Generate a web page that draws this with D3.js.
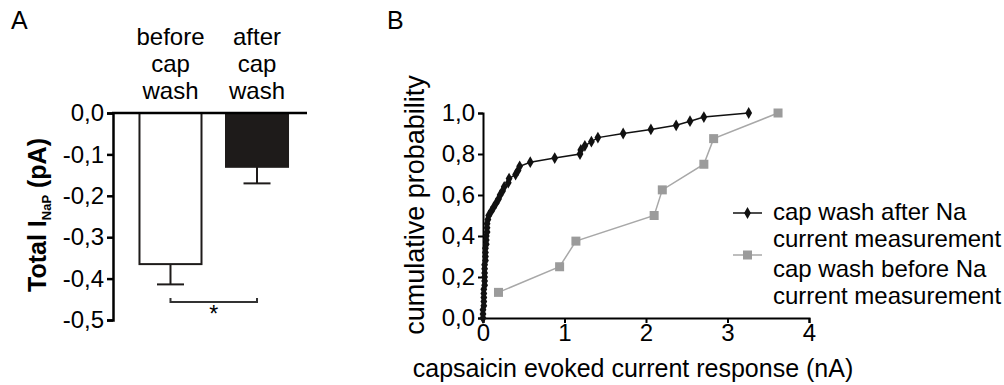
<!DOCTYPE html>
<html>
<head>
<meta charset="utf-8">
<script src="https://cdn.jsdelivr.net/npm/d3@7"></script>
<style>
  body { margin: 0; background: #fff; }
  svg { display: block; font-family: "Liberation Sans", Arial, sans-serif; }
</style>
</head>
<body>
<svg id="chart" width="1004" height="385"></svg>
<script>
// panel A data
var groups = ["before", "after"];
var groupLabels = [["before", "cap", "wash"], ["after", "cap", "wash"]];
var barMeans = [-0.365, -0.13];
var barErrs = [0.049, 0.04];
var barFills = ["#ffffff", "#1e1b1a"];
var yTicksA = [0, -0.1, -0.2, -0.3, -0.4, -0.5];

// panel B data (cumulative distributions)
var afterX = [0.00, 0.00, 0.00, 0.01, 0.01, 0.01, 0.01, 0.01, 0.02, 0.02, 0.02, 0.02, 0.02,
  0.02, 0.03, 0.03, 0.03, 0.03, 0.04, 0.04, 0.04, 0.05, 0.05, 0.05, 0.06, 0.07,
  0.10, 0.13, 0.16, 0.19, 0.21, 0.24, 0.26, 0.31, 0.32, 0.40, 0.43, 0.45, 0.58, 0.88,
  1.19, 1.20, 1.25, 1.33, 1.41, 1.72, 2.06, 2.37, 2.54, 2.71, 3.26];
var afterY = [0.00, 0.02, 0.04, 0.06, 0.08, 0.10, 0.12, 0.14, 0.16, 0.18, 0.20, 0.22, 0.24,
  0.26, 0.28, 0.30, 0.32, 0.34, 0.36, 0.38, 0.40, 0.42, 0.44, 0.46, 0.48, 0.50,
  0.52, 0.54, 0.56, 0.58, 0.60, 0.62, 0.64, 0.66, 0.68, 0.70, 0.72, 0.74, 0.76, 0.78,
  0.80, 0.82, 0.84, 0.86, 0.88, 0.90, 0.92, 0.94, 0.96, 0.98, 1.00];
var beforeX = [0.19, 0.94, 1.14, 2.10, 2.20, 2.71, 2.83, 3.62];
var beforeY = [0.125, 0.25, 0.375, 0.50, 0.625, 0.75, 0.875, 1.0];
var xTicksB = [0, 1, 2, 3, 4];
var yTicksB = [0, 0.2, 0.4, 0.6, 0.8, 1.0];
var legendLabels = [["cap wash after Na", "current measurement"], ["cap wash before Na", "current measurement"]];

var svg = d3.select("#chart");
var fmt = function (d) { return d3.format(".1f")(d).replace(".", ",").replace("−", "-"); };

// ---------- panel A ----------
svg.append("text").attr("x", 11).attr("y", 29).attr("font-size", 25).text("A");

var yA = d3.scaleLinear().domain([-0.5, 0]).range([320, 113]);
var xA = d3.scaleBand().domain(groups).range([126.5, 301]).paddingInner(0.2832).paddingOuter(0.15);

var gA = svg.append("g");

gA.selectAll(".bar")
  .data(groups)
  .enter()
  .append("rect")
  .attr("x", function (d) { return xA(d); })
  .attr("y", yA(0))
  .attr("width", xA.bandwidth())
  .attr("height", function (d, i) { return yA(barMeans[i]) - yA(0); })
  .attr("fill", function (d, i) { return barFills[i]; })
  .attr("stroke", "#1e1b1a")
  .attr("stroke-width", 2);

groups.forEach(function (g, i) {
  var cx = xA(g) + xA.bandwidth() / 2;
  var y0 = yA(barMeans[i]), y1 = yA(barMeans[i] - barErrs[i]);
  gA.append("line").attr("x1", cx).attr("x2", cx).attr("y1", y0).attr("y2", y1)
    .attr("stroke", "#1e1b1a").attr("stroke-width", 2);
  gA.append("line").attr("x1", cx - 13.5).attr("x2", cx + 13.5).attr("y1", y1).attr("y2", y1)
    .attr("stroke", "#1e1b1a").attr("stroke-width", 2);
  groupLabels[i].forEach(function (t, j) {
    gA.append("text").attr("x", cx).attr("y", 45 + j * 27)
      .attr("text-anchor", "middle").attr("font-size", 24).text(t);
  });
});

var axA = gA.append("g").attr("transform", "translate(113,0)")
  .call(d3.axisLeft(yA).tickValues(yTicksA).tickSize(6).tickPadding(3).tickFormat(fmt));
axA.select(".domain").attr("stroke", "#000").attr("stroke-width", 2.5);
axA.selectAll(".tick line").attr("stroke-width", 2.5);
axA.selectAll(".tick text").attr("font-size", 24).attr("font-family", "Liberation Sans, Arial, sans-serif").attr("fill", "#000");

// zero line
gA.append("line").attr("x1", 112).attr("x2", 307).attr("y1", yA(0)).attr("y2", yA(0))
  .attr("stroke", "#000").attr("stroke-width", 2.5);

// significance bracket
var bx0 = xA("before") + xA.bandwidth() / 2, bx1 = xA("after") + xA.bandwidth() / 2;
gA.append("path")
  .attr("d", "M" + bx0 + ",298V302H" + bx1 + "V298")
  .attr("fill", "none").attr("stroke", "#333").attr("stroke-width", 2);
gA.append("text").attr("x", (bx0 + bx1) / 2).attr("y", 322).attr("text-anchor", "middle")
  .attr("font-size", 23).text("*");

// y title A
var tA = gA.append("text")
  .attr("transform", "translate(46,215) rotate(-90)")
  .attr("text-anchor", "middle")
  .attr("font-size", 25).attr("font-weight", "bold");
tA.append("tspan").text("Total I");
tA.append("tspan").attr("font-size", 13).attr("dy", 5).text("NaP");
tA.append("tspan").attr("dy", -5).text(" (pA)");

// ---------- panel B ----------
svg.append("text").attr("x", 387).attr("y", 29).attr("font-size", 25).text("B");

var xB = d3.scaleLinear().domain([0, 4]).range([483, 809]);
var yB = d3.scaleLinear().domain([0, 1]).range([318, 113]);
var gB = svg.append("g");

var axXB = gB.append("g").attr("transform", "translate(0,318)")
  .call(d3.axisBottom(xB).tickValues(xTicksB).tickSize(5).tickPadding(1).tickFormat(d3.format("d")));
var axYB = gB.append("g").attr("transform", "translate(483,0)")
  .call(d3.axisLeft(yB).tickValues(yTicksB).tickSize(5).tickPadding(3).tickFormat(fmt));
[axXB, axYB].forEach(function (ax) {
  ax.select(".domain").attr("stroke", "#000").attr("stroke-width", 2);
  ax.selectAll(".tick line").attr("stroke-width", 2);
  ax.selectAll(".tick text").attr("font-size", 24).attr("font-family", "Liberation Sans, Arial, sans-serif").attr("fill", "#000");
});

var beforePts = beforeX.map(function (x, i) { return [x, beforeY[i]]; });
var afterPts = afterX.map(function (x, i) { return [x, afterY[i]]; });

gB.append("path").datum(beforePts)
  .attr("d", d3.line().x(function (d) { return xB(d[0]); }).y(function (d) { return yB(d[1]); }))
  .attr("fill", "none").attr("stroke", "#a8a8a8").attr("stroke-width", 1.5);
gB.selectAll(".sq").data(beforePts).enter().append("rect")
  .attr("x", function (d) { return xB(d[0]) - 4.5; })
  .attr("y", function (d) { return yB(d[1]) - 4.5; })
  .attr("width", 9).attr("height", 9).attr("fill", "#9b9b9b");

gB.append("path").datum(afterPts)
  .attr("d", d3.line().x(function (d) { return xB(d[0]); }).y(function (d) { return yB(d[1]); }))
  .attr("fill", "none").attr("stroke", "#111").attr("stroke-width", 1.5);
var diamond = d3.symbol().type(d3.symbolDiamond).size(40);
gB.selectAll(".dm").data(afterPts).enter().append("path")
  .attr("d", diamond)
  .attr("transform", function (d) { return "translate(" + xB(d[0]) + "," + yB(d[1]) + ")"; })
  .attr("fill", "#111");

gB.append("text").attr("x", (483 + 809) / 2 - 13).attr("y", 377).attr("text-anchor", "middle")
  .attr("font-size", 25).text("capsaicin evoked current response (nA)");
gB.append("text").attr("transform", "translate(424,205) rotate(-90)").attr("text-anchor", "middle")
  .attr("font-size", 27).text("cumulative probability");

// legend
var legY = [213, 255];
var legColors = ["#111", "#a8a8a8"];
legendLabels.forEach(function (lines, i) {
  var lg = gB.append("g");
  lg.append("line").attr("x1", 733).attr("x2", 762).attr("y1", legY[i]).attr("y2", legY[i])
    .attr("stroke", legColors[i]).attr("stroke-width", 1.5);
  if (i === 0) {
    lg.append("path").attr("d", diamond).attr("transform", "translate(747.5," + legY[i] + ")").attr("fill", "#111");
  } else {
    lg.append("rect").attr("x", 743).attr("y", legY[i] - 4.5).attr("width", 9).attr("height", 9).attr("fill", "#9b9b9b");
  }
  lines.forEach(function (t, j) {
    lg.append("text").attr("x", 773).attr("y", 220 + i * 57 + j * 27)
      .attr("font-size", 24).text(t);
  });
});
</script>
</body>
</html>
